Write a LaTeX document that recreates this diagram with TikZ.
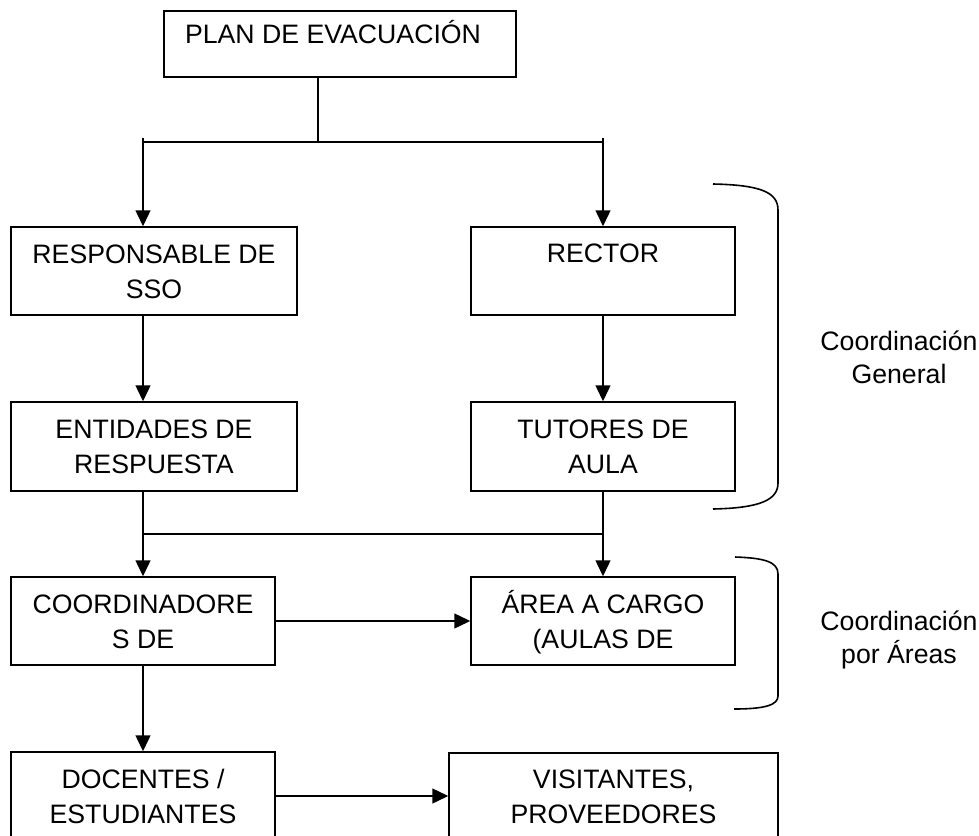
\documentclass[tikz,border=0pt]{standalone}
\usepackage{fontspec}
\setmainfont{Liberation Sans}
\usetikzlibrary{arrows.meta}
\begin{document}
\begin{tikzpicture}[x=0.75pt,y=-0.75pt,
  box/.style={draw, line width=1pt, inner sep=0pt},
  btext/.style={font=\fontsize{20}{26.25}\selectfont, align=center, inner sep=0pt, anchor=base},
  arr/.style={line width=1.7pt, -{Triangle[length=12pt,width=11pt]}},
  ln/.style={line width=1pt},
  brk/.style={line width=1.2pt},
  lbl/.style={font=\fontsize{20}{24.75}\selectfont, align=center, inner sep=0pt, anchor=base}]
\useasboundingbox (0,0) rectangle (979,836);
% boxes
\node[box, minimum width=264pt,    minimum height=49.5pt] (plan)   at (340,44) {};
\node[box, minimum width=214.5pt,  minimum height=66pt]   (resp)   at (154,271) {};
\node[box, minimum width=198pt,    minimum height=66pt]   (rector) at (603,271) {};
\node[box, minimum width=214.5pt,  minimum height=66.75pt] (ent)   at (154,446.5) {};
\node[box, minimum width=198pt,    minimum height=66.75pt] (tut)   at (603,446.5) {};
\node[box, minimum width=198pt,    minimum height=66pt]   (coord)  at (143,621) {};
\node[box, minimum width=198pt,    minimum height=66pt]   (area)   at (603,621) {};
\node[box, minimum width=198pt,    minimum height=69.75pt] (doc)   at (143,798.5) {};
\node[box, minimum width=246.75pt, minimum height=69pt]   (vis)    at (613.5,799) {};
% texts (anchor base = baseline of the last line)
\node[btext] (planT)   at (333,43)  {PLAN DE EVACUACIÓN};
\node[btext] (respT)   at (154,298) {RESPONSABLE DE\\SSO};
\node[btext] (rectorT) at (603,262) {RECTOR};
\node[btext] (entT)    at (154,473) {ENTIDADES DE\\RESPUESTA};
\node[btext] (tutT)    at (603,473) {TUTORES DE\\AULA};
\node[btext] (coordT)  at (143,648) {COORDINADORE\\S DE};
\node[btext] (areaT)   at (603,648) {ÁREA A CARGO\\(AULAS DE};
\node[btext] (docT)    at (143,823) {DOCENTES /\\ESTUDIANTES};
\node[btext] (visT)    at (613.5,823) {VISITANTES,\\PROVEEDORES};
% junctions
\coordinate (pj) at (318,142);
\coordinate (jl) at (143,142);
\coordinate (jr) at (603,142);
\coordinate (al) at (143,138);
\coordinate (ar) at (603,138);
\coordinate (jl2) at (143,534);
\coordinate (jr2) at (603,534);
% connectors
\draw[ln] (plan.south -| pj) -- (pj);
\draw[ln] (jl) -- (jr);
\draw[arr] (al) -- (al |- resp.north);
\draw[arr] (ar) -- (rector.north);
\draw[arr] (jl |- resp.south) -- (jl |- ent.north);
\draw[arr] (rector.south) -- (tut.north);
\draw[arr] (jl |- ent.south) -- (coord.north);
\draw[arr] (tut.south) -- (area.north);
\draw[ln] (jl2) -- (jr2);
\draw[arr] (coord.east) -- (area.west);
\draw[arr] (coord.south) -- (doc.north);
\draw[arr] (doc.east |- 0,796) -- (vis.west |- 0,796);
% brackets
\draw[brk] (713,184) .. controls (760,185) and (778,192) .. (778,210) -- (778,483) .. controls (778,500) and (760,508) .. (713,509);
\draw[brk] (735,557) .. controls (765,558) and (778,562) .. (778,574) -- (778,696) .. controls (778,705) and (765,709) .. (734,709);
% labels
\node[lbl] (cg) at (899,383) {Coordinación\\General};
\node[lbl] (ca) at (899,663) {Coordinación\\por Áreas};
\end{tikzpicture}
\end{document}
